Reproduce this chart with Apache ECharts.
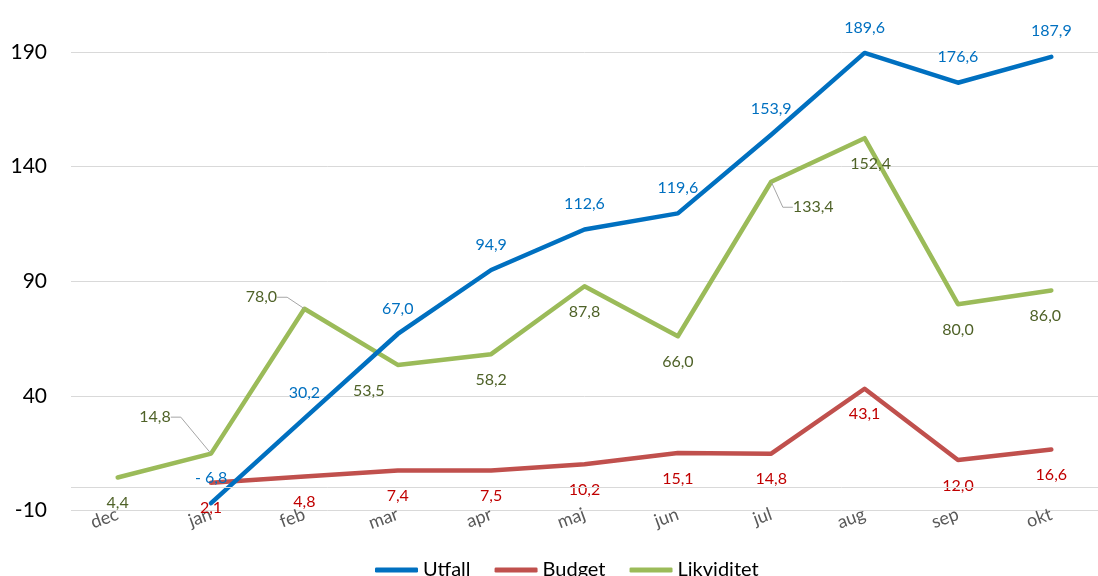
<!DOCTYPE html>
<html>
<head>
<meta charset="utf-8">
<script src="https://cdn.jsdelivr.net/npm/echarts@6/dist/echarts.min.js"></script>
<style>
html,body{margin:0;padding:0;background:#fff;}
#chart{width:1098px;height:576px;}
</style>
</head>
<body>
<div id="chart"></div>
<script>
var categories = ['dec','jan','feb','mar','apr','maj','jun','jul','aug','sep','okt'];
var utfall = [null, -6.8, 30.2, 67.0, 94.9, 112.6, 119.6, 153.9, 189.6, 176.6, 187.9];
var budget = [null, 2.1, 4.8, 7.4, 7.5, 10.2, 15.1, 14.8, 43.1, 12.0, 16.6];
var likviditet = [4.4, 14.8, 78.0, 53.5, 58.2, 87.8, 66.0, 133.4, 152.4, 80.0, 86.0];
var yTicks = [-10, 40, 90, 140, 190];

var FONT = 'Lato';
function fmt(v) {
  if (v == null) return '';
  var s = Math.abs(v).toFixed(1).replace('.', ',');
  return v < 0 ? '- ' + s : s;
}
function labelFmt(p) {
  var v = Array.isArray(p.value) ? p.value[1] : p.value;
  return fmt(v);
}
// label displacement for Likviditet labels (pixels)
var likMoves = {1: [-56, -62], 2: [-43, -37], 3: [-29, 0], 7: [42, 0], 8: [6, 0], 10: [-6, 0]};
var likLeader = {1: true, 2: true, 7: true};

var likData = likviditet.map(function (v, i) {
  var item = {value: v};
  if (likLeader[i]) {
    item.labelLine = {show: true, length2: 10, lineStyle: {color: '#A6A6A6', width: 1}};
  }
  return item;
});

var chart = echarts.init(document.getElementById('chart'));
chart.setOption({
  animation: false,
  backgroundColor: '#fff',
  textStyle: {fontFamily: FONT},
  grid: {left: 71, right: -12, top: 52, bottom: 65.5, containLabel: false},
  legend: {
    bottom: -4,
    left: 375,
    padding: 0,
    itemWidth: 43,
    itemHeight: 5,
    itemGap: 24,
    icon: 'roundRect',
    textStyle: {fontFamily: FONT, fontSize: 20, color: '#000'},
    data: ['Utfall', 'Budget', 'Likviditet']
  },
  xAxis: {
    type: 'category',
    data: categories,
    boundaryGap: true,
    axisLine: {show: false},
    axisTick: {show: false},
    axisLabel: {
      color: '#595959',
      fontFamily: FONT,
      fontSize: 18,
      rotate: 20,
      margin: 3,
      interval: 0
    }
  },
  yAxis: {
    type: 'value',
    min: yTicks[0],
    max: yTicks[yTicks.length - 1],
    interval: 50,
    axisLine: {show: false},
    axisTick: {show: false},
    axisLabel: {color: '#000', fontFamily: FONT, fontSize: 21, margin: 24},
    splitLine: {lineStyle: {color: '#D9D9D9', width: 1}}
  },
  series: [
    {
      name: 'zero',
      type: 'line',
      data: [],
      z: 1,
      silent: true,
      markLine: {
        silent: true,
        symbol: 'none',
        label: {show: false},
        lineStyle: {color: '#D9D9D9', width: 1, type: 'solid'},
        data: [{yAxis: 0}]
      }
    },
    {
      name: 'Utfall',
      type: 'line',
      data: utfall,
      z: 4,
      color: '#0070C0',
      symbol: 'circle',
      symbolSize: 1,
      showSymbol: true,
      lineStyle: {width: 4.5, color: '#0070C0', cap: 'round', join: 'round'},
      label: {
        show: true, position: 'top', distance: 17,
        color: '#0070C0', fontFamily: FONT, fontSize: 16, formatter: labelFmt
      }
    },
    {
      name: 'Budget',
      type: 'line',
      data: budget,
      z: 3,
      color: '#C0504D',
      symbol: 'circle',
      symbolSize: 1,
      showSymbol: true,
      lineStyle: {width: 4.5, color: '#C0504D', cap: 'round', join: 'round'},
      label: {
        show: true, position: 'bottom', distance: 17,
        color: '#C00000', fontFamily: FONT, fontSize: 16, formatter: labelFmt
      }
    },
    {
      name: 'Likviditet',
      type: 'line',
      data: likData,
      z: 2,
      color: '#9BBB59',
      symbol: 'circle',
      symbolSize: 1,
      showSymbol: true,
      lineStyle: {width: 4.5, color: '#9BBB59', cap: 'round', join: 'round'},
      label: {
        show: true, position: 'bottom', distance: 17,
        color: '#4F6228', fontFamily: FONT, fontSize: 16, formatter: labelFmt
      },
      labelLine: {show: false},
      labelLayout: function (p) {
        var m = likMoves[p.dataIndex];
        if (m) return {dx: m[0], dy: m[1]};
        return {};
      }
    }
  ]
});
</script>
</body>
</html>
